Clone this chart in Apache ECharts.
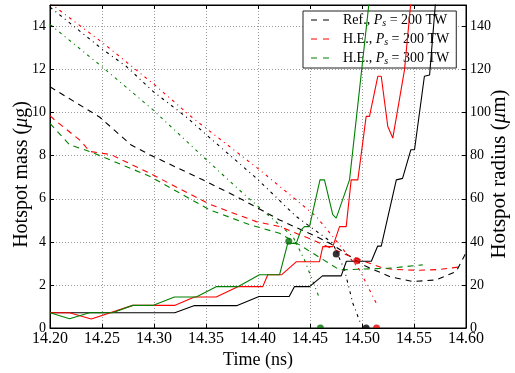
<!DOCTYPE html>
<html>
<head>
<meta charset="utf-8">
<script src="https://cdn.jsdelivr.net/npm/echarts@6/dist/echarts.min.js"></script>
<style>
  html, body { margin: 0; padding: 0; background: #fff; }
  #chart { width: 515px; height: 373px; }
</style>
</head>
<body>
<div id="chart"></div>
<script>
// Time axis ticks (ns)
const timeTicks = [14.20, 14.25, 14.30, 14.35, 14.40, 14.45, 14.50, 14.55, 14.60];

// Run labels for the legend
const runPrefixes = ['Ref.,', 'H.E.,', 'H.E.,'];
const runPowers = [200, 200, 300];

// Hotspot mass (ug) vs time (ns), solid lines
const massRef = [[14.20,0.71],[14.32,0.71],[14.339,1.04],[14.38,1.04],[14.401,1.46],[14.430,1.46],[14.435,1.92],[14.4495,1.92],[14.462,2.42],[14.480,2.42],[14.485,3.10],[14.509,3.10],[14.515,3.80],[14.5185,3.80],[14.533,6.88],[14.539,6.95],[14.547,8.28],[14.5505,8.28],[14.560,11.69],[14.565,11.75],[14.571,15.3]];
const massHE200 = [[14.20,0.71],[14.2188,0.71],[14.2396,0.42],[14.2796,1.05],[14.3197,1.05],[14.3389,1.44],[14.3598,1.44],[14.3806,1.92],[14.4046,1.92],[14.4094,2.47],[14.4226,2.47],[14.437,3.08],[14.4591,3.08],[14.4623,3.78],[14.4719,3.78],[14.4784,4.71],[14.4848,4.71],[14.4896,6.88],[14.496,6.88],[14.504,9.83],[14.5072,9.83],[14.5152,11.69],[14.5185,11.69],[14.5248,9.36],[14.5296,8.82],[14.5409,12.0],[14.5473,15.3]];
const massHE300 = [[14.20,0.71],[14.2188,0.43],[14.238,0.71],[14.2601,0.71],[14.2796,1.05],[14.2988,1.05],[14.3197,1.44],[14.3406,1.44],[14.3598,1.92],[14.3806,1.92],[14.4014,2.47],[14.4207,2.47],[14.4287,3.95],[14.4367,3.92],[14.4415,4.56],[14.4447,4.71],[14.4495,4.71],[14.4596,6.88],[14.4639,6.88],[14.4719,5.26],[14.4752,5.10],[14.488,6.88],[14.4976,11.07],[14.5072,15.3]];

// Hotspot radius (um) vs time (ns), dashed lines
const radiusRef = [[14.20,112],[14.2476,98],[14.2781,85],[14.2957,80.5],[14.3469,68.8],[14.3822,60.3],[14.4207,50.2],[14.456,42.5],[14.4719,38.6],[14.5008,29.3],[14.5264,23.9],[14.5488,21.6],[14.5713,22.3],[14.5906,26.2],[14.600,34.9]];
const radiusHE200 = [[14.20,98.6],[14.2043,96.7],[14.230,86.7],[14.238,82],[14.2588,80.5],[14.2957,71.9],[14.3534,57.5],[14.3983,49.4],[14.4207,47.1],[14.4527,40.9],[14.4848,34.0],[14.4944,32.4],[14.52,27.8],[14.53,27.2],[14.555,26.8],[14.575,27.2],[14.596,28.5]];
const radiusHE300 = [[14.20,95],[14.2188,85.1],[14.238,82],[14.2957,70.5],[14.3534,54.9],[14.3918,48],[14.4207,44],[14.4399,38.6],[14.4784,27.0],[14.4976,27.3],[14.5264,27.8],[14.5584,29.3]];

// Shell radius (um) vs time (ns), dash-dot lines
const shellRef = [[14.20,149],[14.2508,129.3],[14.2733,121.5],[14.2988,110],[14.331,98],[14.3502,89.8],[14.3983,69.6],[14.4367,51.8],[14.4719,39.4],[14.4832,27.0],[14.4912,11.5],[14.4992,1.4]];
const shellHE200 = [[14.20,151],[14.206,148.7],[14.2508,132.4],[14.3021,112.3],[14.3373,97.5],[14.4014,73.5],[14.456,51.8],[14.4752,40.5],[14.4976,27.0],[14.5137,11.5]];
const shellHE300 = [[14.20,141],[14.206,138.6],[14.2508,121],[14.2988,101.4],[14.3469,79.7],[14.3854,62.6],[14.4335,42.5],[14.4447,31.6],[14.4591,13.8]];

// Ignition / stagnation markers (time, mass)
const markRef = [[14.4752,3.44]];
const markHE200 = [[14.495,3.12]];
const markHE300 = [[14.4296,4.03]];
const stagRef = [[14.504,0]];
const stagHE200 = [[14.514,0]];
const stagHE300 = [[14.46,0]];

const FONT = "'Liberation Serif', 'DejaVu Serif', serif";
const C_REF = '#000000', C_200 = '#ff0000', C_300 = '#008000';

const runNames = runPrefixes.map((p, i) => p + ' Ps = ' + runPowers[i] + ' TW');
const legendRich = {};
runNames.forEach((n, i) => {
  legendRich[n] = '{g|}{a|' + runPrefixes[i] + ' }{i|P}{s|s}{a| = ' + runPowers[i] + ' TW}';
});
// two short dashes as the legend key
const DASH_ICON = 'path://M0,0 H6 V1 H0 Z M12,0 H18 V1 H12 Z';

function lineSeries(name, data, color, dash, yIdx, z) {
  return {
    name: name, type: 'line', data: data, xAxisIndex: 0, yAxisIndex: yIdx,
    showSymbol: false, symbol: 'none', clip: true, z: z,
    lineStyle: { color: color, width: 1.1, type: dash },
    itemStyle: { color: color },
    emphasis: { disabled: true }, silent: true
  };
}
function dotSeries(data, color, half) {
  return {
    type: 'scatter', data: data, xAxisIndex: 0, yAxisIndex: 0, z: 10,
    symbol: half ? 'path://M0,10 A10,10 0 0,1 20,10 Z' : 'circle',
    symbolSize: half ? [7, 3.5] : 7,
    symbolOffset: half ? [0, '-50%'] : [0, 0],
    itemStyle: { color: color }, silent: true, clip: false
  };
}

const tickStyle = { show: true, inside: true, length: 4, lineStyle: { color: '#000', width: 1 } };
const gridLine = { show: true, lineStyle: { color: '#9a9a9a', width: 1, type: [1, 2] } };

const option = {
  animation: false,
  backgroundColor: '#fff',
  textStyle: { fontFamily: FONT },
  grid: { left: 50, right: 49, top: 5, bottom: 45, show: true, borderColor: '#000', borderWidth: 1,
    backgroundColor: 'transparent', containLabel: false, outerBoundsMode: 'none' },
  legend: {
    data: runNames.map(n => ({ name: n, icon: DASH_ICON })),
    orient: 'vertical', left: 303, top: 11,
    backgroundColor: '#fff', borderColor: '#222', borderWidth: 1, borderRadius: 0,
    padding: [2, 7, 2, 8], itemWidth: 18, itemHeight: 1.3, itemGap: 4,
    formatter: n => legendRich[n],
    textStyle: {
      fontFamily: FONT, fontSize: 14, color: '#000',
      rich: {
        g: { width: 9 },
        a: { fontFamily: FONT, fontSize: 14, lineHeight: 16, color: '#000' },
        i: { fontFamily: FONT, fontSize: 14, lineHeight: 16, fontStyle: 'italic', color: '#000' },
        s: { fontFamily: FONT, fontSize: 10, lineHeight: 10, fontStyle: 'italic', verticalAlign: 'bottom', color: '#000' }
      }
    }
  },
  xAxis: [
    {
      type: 'value', position: 'bottom', min: timeTicks[0], max: timeTicks[timeTicks.length - 1], interval: 0.05,
      axisLine: { show: true, onZero: false, lineStyle: { color: '#000', width: 1 } },
      axisTick: tickStyle,
      axisLabel: { color: '#000', fontFamily: FONT, fontSize: 16, margin: 3, formatter: v => v.toFixed(2) },
      splitLine: gridLine,
      name: 'Time (ns)', nameLocation: 'middle', nameGap: 23, nameMoveOverlap: false,
      nameTextStyle: { color: '#000', fontFamily: FONT, fontSize: 18 }
    },
    {
      type: 'value', position: 'top', min: timeTicks[0], max: timeTicks[timeTicks.length - 1], interval: 0.05,
      axisLine: { show: true, onZero: false, lineStyle: { color: '#000', width: 1 } },
      axisTick: tickStyle, axisLabel: { show: false }, splitLine: { show: false }
    }
  ],
  yAxis: [
    {
      type: 'value', position: 'left', min: 0, max: 15, interval: 2,
      axisLine: { show: true, onZero: false, lineStyle: { color: '#000', width: 1 } },
      axisTick: tickStyle,
      axisLabel: { color: '#000', fontFamily: FONT, fontSize: 14, margin: 4, showMaxLabel: false,
        formatter: v => (v % 2 === 0 ? String(v) : '') },
      splitLine: gridLine,
      name: 'Hotspot mass ({i|μ}g)', nameLocation: 'middle', nameGap: 18, nameMoveOverlap: false,
      nameTextStyle: { color: '#000', fontFamily: FONT, fontSize: 20, padding: [0, 16, 0, 0],
        rich: { i: { fontFamily: FONT, fontSize: 20, fontStyle: 'italic', color: '#000' } } }
    },
    {
      type: 'value', position: 'right', min: 0, max: 150, interval: 20,
      axisLine: { show: true, onZero: false, lineStyle: { color: '#000', width: 1 } },
      axisTick: tickStyle,
      axisLabel: { color: '#000', fontFamily: FONT, fontSize: 14, margin: 4, showMaxLabel: false,
        formatter: v => (v % 20 === 0 ? String(v) : '') },
      splitLine: { show: false },
      name: 'Hotspot radius ({i|μ}m)', nameLocation: 'middle', nameGap: 23, nameMoveOverlap: false,
      nameTextStyle: { color: '#000', fontFamily: FONT, fontSize: 21, padding: [0, 15, 0, 0],
        rich: { i: { fontFamily: FONT, fontSize: 21, fontStyle: 'italic', color: '#000' } } }
    }
  ],
  series: [
    lineSeries('shell-ref', shellRef, C_REF, [3, 4, 1, 4], 1, 2),
    lineSeries('shell-he200', shellHE200, C_200, [3, 4, 1, 4], 1, 2),
    lineSeries('shell-he300', shellHE300, C_300, [3, 4, 1, 4], 1, 2),
    lineSeries(runNames[0], radiusRef, C_REF, [6, 5], 1, 3),
    lineSeries(runNames[1], radiusHE200, C_200, [6, 5], 1, 3),
    lineSeries(runNames[2], radiusHE300, C_300, [6, 5], 1, 3),
    lineSeries('mass-ref', massRef, C_REF, 'solid', 0, 4),
    lineSeries('mass-he200', massHE200, C_200, 'solid', 0, 4),
    lineSeries('mass-he300', massHE300, C_300, 'solid', 0, 4),
    dotSeries(markRef, '#000000', false),
    dotSeries(markHE200, '#e00000', false),
    dotSeries(markHE300, '#006e00', false),
    dotSeries(stagRef, '#000000', true),
    dotSeries(stagHE200, '#e00000', true),
    dotSeries(stagHE300, '#006e00', true)
  ]
};

const chart = echarts.init(document.getElementById('chart'), null, { renderer: 'canvas' });
chart.setOption(option);
</script>
</body>
</html>
